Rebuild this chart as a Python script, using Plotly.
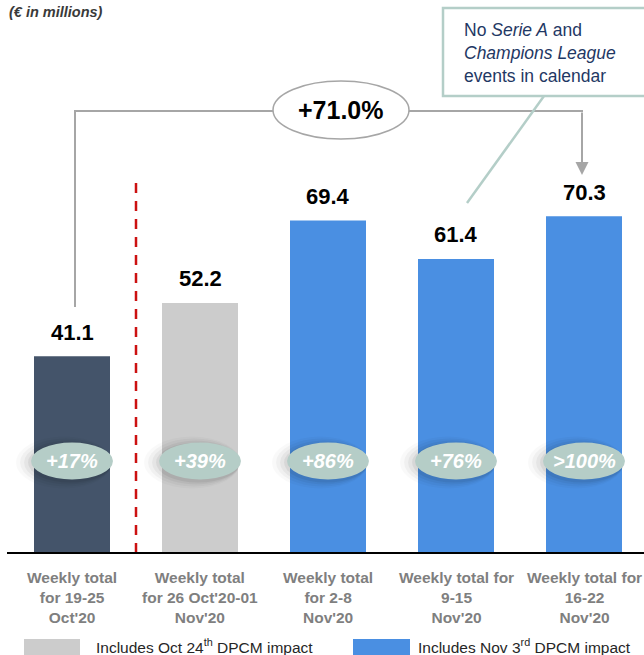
import plotly.graph_objects as go

# ---------------- data ----------------
categories = ["Weekly total<br>for 19-25<br>Oct'20",
              "Weekly total<br>for 26 Oct'20-01<br>Nov'20",
              "Weekly total<br>for 2-8<br>Nov'20",
              "Weekly total for<br>9-15<br>Nov'20",
              "Weekly total for<br>16-22<br>Nov'20"]
values = [41.1, 52.2, 69.4, 61.4, 70.3]
growth_labels = ["+17%", "+39%", "+86%", "+76%", ">100%"]
bar_colors = ["#44546a", "#cccccc", "#4a8fe2", "#4a8fe2", "#4a8fe2"]
total_change = "+71.0%"
unit_note = "(€ in millions)"
callout_text = "No <i>Serie A</i> and<br><i>Champions League</i><br>events in calendar"
legend_items = [("Includes Oct 24<sup>th</sup> DPCM impact", "#cccccc"),
                ("Includes Nov 3<sup>rd</sup> DPCM impact", "#4a8fe2")]

# ---------------- layout geometry helpers ----------------
W, H = 644, 655
ML, MR, MT, MB = 8, 0, 0, 102
PW, PH = W - ML - MR, H - MT - MB
PX_PER_UNIT = 4.79
XSTEP = 128.0
X0 = -0.5
X1 = X0 + PW / XSTEP
YMAX = PH / PX_PER_UNIT

def dy(p):  # pixel y -> data y
    return (MT + PH - p) / PX_PER_UNIT

def fx(p):  # pixel x -> paper x
    return (p - ML) / PW

def fy(p):  # pixel y -> paper y
    return 1 - (p - MT) / PH

FONT = "Liberation Sans, Arial, sans-serif"
GRAY = "#a6a6a6"
TEAL = "#b4cec8"

fig = go.Figure()
xs = list(range(len(values)))
fig.add_trace(go.Bar(x=xs, y=values, marker=dict(color=bar_colors, line=dict(width=0)),
                     width=76 / XSTEP, hoverinfo="skip"))

shapes = []
annotations = []

# value labels
for i, v in zip(xs, values):
    annotations.append(dict(x=i, y=v, xref="x", yref="y", text=f"<b>{v:.1f}</b>",
                            showarrow=False, xanchor="center", yanchor="middle", yshift=24,
                            font=dict(family=FONT, size=22, color="#000000")))

# growth ovals with soft shadow
for i, g in zip(xs, growth_labels):
    for off, grow, op in [(-8, 7, 0.025), (-6, 5, 0.035), (-4, 3, 0.045), (-2, 1, 0.06)]:
        shapes.append(dict(type="circle", xref="x", yref="y",
                           x0=i - 0.32 + (off - grow) / XSTEP,
                           x1=i + 0.32 + (off + grow) / XSTEP,
                           y0=dy(479.5 + 2 + grow), y1=dy(442.5 + 1 - grow),
                           fillcolor="#000000", opacity=op, line=dict(width=0),
                           layer="above"))
    shapes.append(dict(type="circle", xref="x", yref="y",
                       x0=i - 0.32, x1=i + 0.32, y0=dy(479.5), y1=dy(442.5),
                       fillcolor="#b5cdc7", line=dict(width=0), layer="above"))
    annotations.append(dict(x=i, y=dy(461), xref="x", yref="y",
                            text=f"<b><i>{g}</i></b>", showarrow=False,
                            xanchor="center", yanchor="middle",
                            font=dict(family=FONT, size=20, color="#ffffff")))

# red dashed separator
shapes.append(dict(type="line", xref="x", yref="y", x0=0.5, x1=0.5, y0=0, y1=dy(176),
                   line=dict(color="#cc1111", width=2.5, dash="10px,8px")))

# bracket for total change
shapes.append(dict(type="line", xref="paper", yref="paper", x0=fx(75), x1=fx(75),
                   y0=fy(111), y1=fy(307), line=dict(color=GRAY, width=2)))
shapes.append(dict(type="line", xref="paper", yref="paper", x0=fx(74), x1=fx(583),
                   y0=fy(111), y1=fy(111), line=dict(color=GRAY, width=2)))
annotations.append(dict(x=fx(582), y=fy(175), ax=0, ay=-(175 - 111), xref="paper", yref="paper",
                        axref="pixel", ayref="pixel", text="", showarrow=True,
                        arrowhead=2, arrowsize=1.3, arrowwidth=2, arrowcolor=GRAY, standoff=0))
shapes.append(dict(type="circle", xref="paper", yref="paper", x0=fx(273), x1=fx(409),
                   y0=fy(139), y1=fy(81), fillcolor="#ffffff",
                   line=dict(color=GRAY, width=1.5)))
annotations.append(dict(x=fx(341), y=fy(110), xref="paper", yref="paper",
                        text=f"<b>{total_change}</b>", showarrow=False,
                        xanchor="center", yanchor="middle",
                        font=dict(family=FONT, size=25, color="#000000")))

# callout
shapes.append(dict(type="line", xref="paper", yref="paper", x0=fx(544), x1=fx(467),
                   y0=fy(96), y1=fy(203), line=dict(color=TEAL, width=2.5)))
shapes.append(dict(type="rect", xref="paper", yref="paper", x0=fx(443), x1=fx(660),
                   y0=fy(96), y1=fy(8), fillcolor="#ffffff", line=dict(color=TEAL, width=2.5)))
annotations.append(dict(x=fx(462), y=fy(53), xref="paper", yref="paper", text=callout_text,
                        showarrow=False, xanchor="left", yanchor="middle", align="left",
                        font=dict(family=FONT, size=17.5, color="#1f3864")))

# axis line
shapes.append(dict(type="line", xref="paper", yref="paper", x0=fx(7), x1=fx(646),
                   y0=0, y1=0, line=dict(color="#000000", width=2)))

# category labels
for i, c in zip(xs, categories):
    annotations.append(dict(x=i, y=0, xref="x", yref="paper", text=f"<b>{c}</b>",
                            showarrow=False, xanchor="center", yanchor="top", yshift=-14,
                            font=dict(family=FONT, size=15.5, color="#7f7f7f")))

# unit note
annotations.append(dict(x=fx(7), y=fy(12), xref="paper", yref="paper", text=f"<b><i>{unit_note}</i></b>",
                        showarrow=False, xanchor="left", yanchor="middle",
                        font=dict(family=FONT, size=14.5, color="#3a3a3a")))

# legend
leg_pos = [(24, 80, 94), (353, 410, 416)]
for (txt, col), (r0, r1, tx) in zip(legend_items, leg_pos):
    shapes.append(dict(type="rect", xref="paper", yref="paper", x0=fx(r0), x1=fx(r1),
                       y0=fy(655), y1=fy(639), fillcolor=col, line=dict(width=0)))
    annotations.append(dict(x=fx(tx), y=fy(646), xref="paper", yref="paper", text=txt,
                            showarrow=False, xanchor="left", yanchor="middle",
                            font=dict(family=FONT, size=15.5, color="#262626")))

fig.update_layout(
    width=W, height=H,
    margin=dict(l=ML, r=MR, t=MT, b=MB, pad=0),
    paper_bgcolor="#ffffff", plot_bgcolor="#ffffff",
    showlegend=False,
    xaxis=dict(range=[X0, X1], visible=False, fixedrange=True),
    yaxis=dict(range=[0, YMAX], visible=False, fixedrange=True),
    shapes=shapes, annotations=annotations,
    font=dict(family=FONT),
)

fig.write_html("out.html", config={"displayModeBar": False})
